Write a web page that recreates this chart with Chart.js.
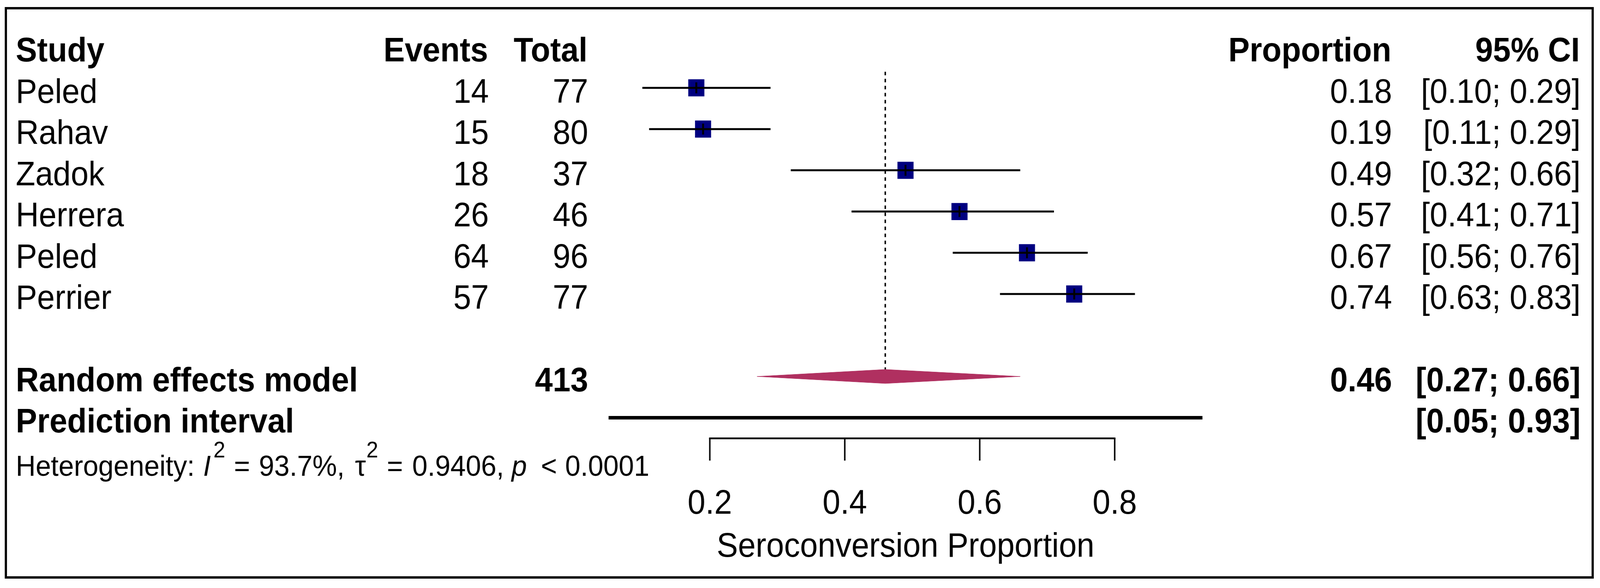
<!DOCTYPE html>
<html>
<head>
<meta charset="utf-8">
<script src="https://cdn.jsdelivr.net/npm/chart.js@4.4.1/dist/chart.umd.min.js"></script>
<style>
  html, body { margin: 0; padding: 0; background: #fff; overflow: hidden; }
  #forest { display: block; }
</style>
</head>
<body>
<canvas id="forest" width="4363" height="1504" style="width:100vw;height:100vh"></canvas>
<script>
// forest plot data
const studies = ['Peled', 'Rahav', 'Zadok', 'Herrera', 'Peled', 'Perrier'];
const events = [14, 15, 18, 26, 64, 57];
const totals = [77, 80, 37, 46, 96, 77];
const proportions = [0.18, 0.19, 0.49, 0.57, 0.67, 0.74];
const ciLower = [0.10, 0.11, 0.32, 0.41, 0.56, 0.63];
const ciUpper = [0.29, 0.29, 0.66, 0.71, 0.76, 0.83];

const pooled = [0.46, 0.27, 0.66];   // estimate, lower, upper
const pooledTotal = 413;
const predInterval = [0.05, 0.93];
const xTicks = [0.2, 0.4, 0.6, 0.8];
const heterogeneity = ['93.7%', '0.9406', '0.0001'];   // I^2, tau^2, p

// layout (drawn in a 4363 x 1504 backing store, stretched to the window)
const W = 4363, H = 1504;
const ROW_TOP = 92, ROW_STEP = 110;      // pixel of row 0, row height
const X_LEFT = 1932, X_RIGHT = 3052;     // pixel of 0.2 and 0.8
const unit = (X_RIGHT - X_LEFT) / 0.6;
const FONT = '"Liberation Sans", Arial, sans-serif';
const SQUARE = '#000080';
const DIAMOND = '#B03060';
const TEXT_LEFT = 43;

const pooledRow = studies.length + 2;
const predRow = pooledRow + 1;
const diamondHalf = 0.17;

function fmt(v) { return v.toFixed(2); }
function ciText(lo, hi) { return '[' + fmt(lo) + '; ' + fmt(hi) + ']'; }

const datasets = [];

// confidence interval lines
studies.forEach((s, i) => {
    datasets.push({
        type: 'line',
        data: [{ x: ciLower[i], y: i + 1 }, { x: ciUpper[i], y: i + 1 }],
        borderColor: '#000',
        borderWidth: 5,
        pointRadius: 0,
        order: 2
    });
});

// study squares
datasets.push({
    type: 'scatter',
    data: proportions.map((p, i) => ({ x: p, y: i + 1 })),
    pointStyle: 'rect',
    pointRadius: 31,
    backgroundColor: SQUARE,
    borderWidth: 0,
    order: 3
});

// small vertical tick at each estimate
datasets.push({
    type: 'scatter',
    data: proportions.map((p, i) => ({ x: p, y: i + 1 })),
    pointStyle: 'line',
    rotation: 90,
    pointRadius: 14,
    borderColor: '#000',
    borderWidth: 5,
    order: 1
});

// dashed line at pooled estimate
datasets.push({
    type: 'line',
    data: [{ x: pooled[0], y: 0.61 }, { x: pooled[0], y: pooledRow - diamondHalf }],
    borderColor: '#000',
    borderWidth: 4,
    borderDash: [9, 9],
    pointRadius: 0,
    order: 4
});

// pooled diamond
datasets.push({
    type: 'line',
    data: [
        { x: pooled[1], y: pooledRow },
        { x: pooled[0], y: pooledRow - diamondHalf },
        { x: pooled[2], y: pooledRow },
        { x: pooled[0], y: pooledRow + diamondHalf },
        { x: pooled[1], y: pooledRow }
    ],
    borderColor: DIAMOND,
    backgroundColor: DIAMOND,
    borderWidth: 1,
    fill: 'shape',
    tension: 0,
    pointRadius: 0,
    order: 1
});

// prediction interval
datasets.push({
    type: 'line',
    data: [{ x: predInterval[0], y: predRow }, { x: predInterval[1], y: predRow }],
    borderColor: '#000',
    borderWidth: 9,
    pointRadius: 0,
    order: 1
});

function drawText(ctx, text, x, y, align, bold) {
    ctx.font = (bold ? 'bold ' : '') + '87px ' + FONT;
    ctx.textAlign = align;
    ctx.fillText(text, x, y);
}

// pieces: [text, style, size, raise, x]
function drawRich(ctx, pieces, y) {
    ctx.textAlign = 'left';
    pieces.forEach(p => {
        ctx.font = p[1] + ' ' + p[2] + 'px ' + FONT;
        ctx.fillText(p[0], p[4], y - p[3]);
    });
}

const tablePlugin = {
    id: 'forestTable',
    afterDraw(chart) {
        const ctx = chart.ctx;
        const xs = chart.scales.x, ys = chart.scales.y;
        const base = row => ys.getPixelForValue(row) + 38;
        ctx.save();
        ctx.fillStyle = '#000';
        ctx.textBaseline = 'alphabetic';

        // header
        drawText(ctx, 'Study', TEXT_LEFT, base(0), 'left', true);
        drawText(ctx, 'Events', 1331, base(0), 'right', true);
        drawText(ctx, 'Total', 1602, base(0), 'right', true);
        drawText(ctx, 'Proportion', 3794, base(0), 'right', true);
        drawText(ctx, '95% CI', 4308, base(0), 'right', true);

        studies.forEach((s, i) => {
            const y = base(i + 1);
            drawText(ctx, s, TEXT_LEFT, y, 'left', false);
            drawText(ctx, String(events[i]), 1333, y, 'right', false);
            drawText(ctx, String(totals[i]), 1604, y, 'right', false);
            drawText(ctx, fmt(proportions[i]), 3796, y, 'right', false);
            drawText(ctx, ciText(ciLower[i], ciUpper[i]), 4310, y, 'right', false);
        });

        drawText(ctx, 'Random effects model', TEXT_LEFT, base(pooledRow), 'left', true);
        drawText(ctx, String(pooledTotal), 1604, base(pooledRow), 'right', true);
        drawText(ctx, fmt(pooled[0]), 3796, base(pooledRow), 'right', true);
        drawText(ctx, ciText(pooled[1], pooled[2]), 4310, base(pooledRow), 'right', true);

        drawText(ctx, 'Prediction interval', TEXT_LEFT, base(predRow), 'left', true);
        drawText(ctx, ciText(predInterval[0], predInterval[1]), 4310, base(predRow), 'right', true);

        drawRich(ctx, [
            ['Heterogeneity:', '', 75, 0, 43],
            ['I', 'italic', 75, 0, 554],
            ['2', '', 58, 47, 582],
            ['=', '', 75, 0, 638],
            [heterogeneity[0] + ',', '', 75, 0, 706],
            ['\u03c4', '', 75, 0, 968],
            ['2', '', 58, 47, 999],
            ['=', '', 75, 0, 1055],
            [heterogeneity[1] + ',', '', 75, 0, 1124],
            ['p', 'italic', 75, 0, 1395],
            ['<', '', 75, 0, 1475],
            [heterogeneity[2], '', 75, 0, 1541]
        ], base(predRow + 1.05));

        // x axis
        const axisY = ys.getPixelForValue(predRow + 0.5);
        const x0 = xs.getPixelForValue(xTicks[0]);
        const x1 = xs.getPixelForValue(xTicks[xTicks.length - 1]);
        ctx.strokeStyle = '#000';
        ctx.lineWidth = 4.5;
        ctx.beginPath();
        ctx.moveTo(x0 - 2, axisY);
        ctx.lineTo(x1 + 2, axisY);
        ctx.stroke();
        ctx.lineWidth = 4;
        xTicks.forEach(t => {
            const px = xs.getPixelForValue(t);
            ctx.beginPath();
            ctx.moveTo(px, axisY);
            ctx.lineTo(px, axisY + 57);
            ctx.stroke();
            drawText(ctx, String(t), px, axisY + 193, 'center', false);
        });
        const mid = xs.getPixelForValue((predInterval[0] + predInterval[1]) / 2);
        drawText(ctx, 'Seroconversion Proportion', mid, axisY + 303, 'center', false);

        // frame
        ctx.lineWidth = 6;
        ctx.strokeRect(16, 21, 4327, 1456);
        ctx.restore();
    }
};

new Chart(document.getElementById('forest').getContext('2d'), {
    type: 'scatter',
    data: { datasets: datasets },
    options: {
        responsive: false,
        devicePixelRatio: 1,
        animation: false,
        events: [],
        layout: { padding: 0 },
        scales: {
            x: {
                type: 'linear',
                display: false,
                min: 0.2 - X_LEFT / unit,
                max: 0.2 + (W - X_LEFT) / unit
            },
            y: {
                type: 'linear',
                display: false,
                reverse: true,
                min: -ROW_TOP / ROW_STEP,
                max: (H - ROW_TOP) / ROW_STEP
            }
        },
        plugins: {
            legend: { display: false },
            tooltip: { enabled: false }
        }
    },
    plugins: [tablePlugin]
});
</script>
</body>
</html>
